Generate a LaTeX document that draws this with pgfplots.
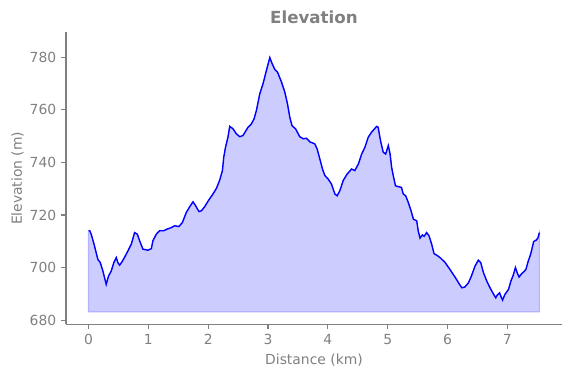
\documentclass[border=0pt]{standalone}
\usepackage{pgfplots}
\pgfplotsset{compat=1.18}
\usepgfplotslibrary{fillbetween}
\usepackage{pgfplotstable}
\usepackage{fontspec}
\setmainfont{DejaVu Sans}
\pgfplotstableread{
x y
0.00 714.0
0.02 714.0
0.045 712.7
0.10 708.2
0.156 703.1
0.196 701.9
0.24 698.7
0.296 693.6
0.335 696.8
0.38 698.7
0.423 701.9
0.464 703.8
0.49 701.9
0.519 700.9
0.557 702.1
0.60 703.8
0.658 706.3
0.715 708.9
0.77 713.3
0.815 712.7
0.854 710.2
0.909 707.0
0.992 706.6
1.05 707.2
1.076 710.2
1.133 712.7
1.188 714.0
1.255 714.0
1.31 714.6
1.384 715.2
1.44 715.9
1.51 715.6
1.568 717.1
1.635 721.0
1.69 723.1
1.746 725.0
1.79 723.5
1.846 721.3
1.886 721.6
1.94 723.1
2.01 725.7
2.08 728.0
2.137 730.1
2.19 733.1
2.238 736.9
2.26 742.0
2.29 745.8
2.33 749.6
2.36 753.7
2.415 752.8
2.47 750.9
2.527 749.8
2.58 750.2
2.666 753.4
2.72 754.6
2.767 756.6
2.806 759.8
2.862 766.1
2.917 770.0
2.973 775.0
3.03 779.9
3.068 777.6
3.113 775.4
3.158 774.4
3.225 770.6
3.28 766.8
3.325 762.3
3.364 757.2
3.40 754.0
3.46 752.8
3.53 749.8
3.587 749.0
3.643 749.2
3.70 747.8
3.78 747.1
3.82 745.2
3.866 741.3
3.91 737.5
3.95 735.0
4.005 733.7
4.06 731.8
4.117 728.0
4.155 727.3
4.20 729.2
4.256 733.1
4.323 735.6
4.397 737.5
4.45 736.9
4.51 739.4
4.565 743.2
4.62 745.8
4.675 749.6
4.73 751.5
4.815 753.7
4.84 753.4
4.88 748.3
4.925 743.9
4.966 743.2
5.01 746.4
5.04 743.2
5.066 738.1
5.093 735.0
5.13 731.1
5.176 730.8
5.23 730.5
5.26 728.0
5.30 727.3
5.344 724.8
5.39 721.6
5.43 718.4
5.485 717.8
5.51 714.0
5.54 711.2
5.58 712.4
5.61 711.9
5.65 713.3
5.69 712.1
5.735 708.9
5.774 705.3
5.82 704.7
5.875 703.8
5.96 701.9
6.04 699.3
6.15 695.5
6.20 693.6
6.24 692.3
6.29 692.6
6.35 694.2
6.40 696.8
6.46 700.6
6.515 702.8
6.555 701.9
6.60 698.1
6.655 694.9
6.71 692.3
6.766 690.0
6.806 688.5
6.83 689.5
6.87 690.4
6.896 688.8
6.92 687.6
6.96 689.8
7.02 691.7
7.06 694.9
7.10 697.2
7.135 700.0
7.17 697.7
7.196 696.4
7.24 697.7
7.28 698.5
7.31 699.3
7.35 702.5
7.39 705.1
7.44 709.9
7.48 710.4
7.51 711.2
7.536 713.3
}\elev
\begin{document}
\begin{tikzpicture}
\begin{axis}[
  name=ax,
  scale only axis,
  width=357.1pt, height=210.2pt,
  xmin=-0.377, xmax=7.913,
  ymin=678.4, ymax=789.5,
  axis x line*=bottom, axis y line*=left,
  axis line style={-, draw=gray, line width=0.8pt},
  tick align=outside, major tick length=3.5pt,
  tick style={gray, line width=0.8pt},
  xtick={0,...,7}, ytick={680,700,...,780},
  tick label style={font=\fontsize{10}{12}\selectfont, text=gray},
  /pgf/number format/assume math mode=true,
  title=Elevation,
  title style={font=\bfseries\fontsize{12}{14}\selectfont, text=gray, at={(axis description cs:0.5,1)}, anchor=base, yshift=0.5pt},
  xlabel={Distance (km)}, ylabel={Elevation (m)},
  label style={font=\fontsize{10}{12}\selectfont, text=gray},
  xlabel style={at={(axis description cs:0.5,0)}, anchor=base, yshift=-28.6pt},
  ylabel style={at={(axis description cs:-0.0888,0.5)}, anchor=base},
]
\addplot[draw=none, name path=top] table[x=x,y=y] {\elev};
\addplot[draw=none, name path=base] coordinates {(0,683.2) (7.536,683.2)};
\addplot[fill=blue!20, draw=blue!30, line width=0.8pt] fill between[of=top and base];
\addplot[blue, line width=1pt] table[x=x,y=y] {\elev};
\end{axis}
\path (ax.south west) ++(-47.5pt,-38.7pt) coordinate (bl);
\path (ax.north east) ++(6.5pt,23.3pt) coordinate (tr);
\path (bl) rectangle (tr);
\end{tikzpicture}
\end{document}
